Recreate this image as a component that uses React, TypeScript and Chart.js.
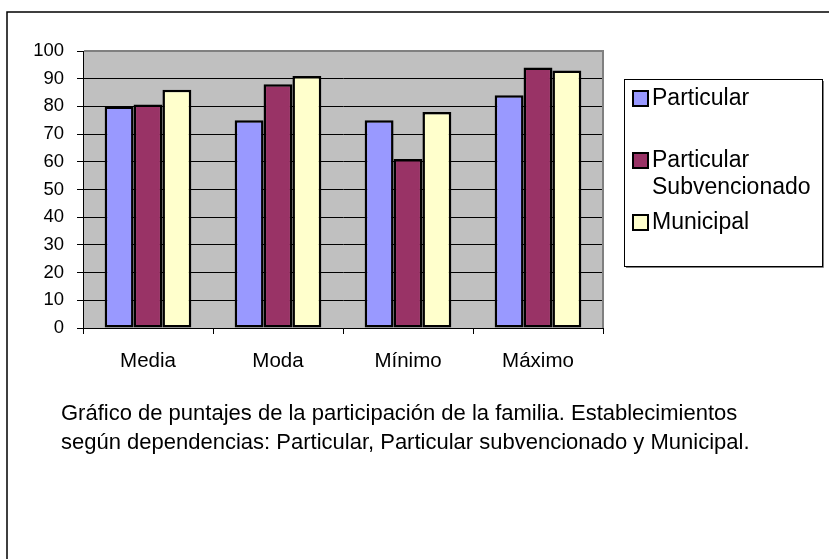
import React, { useEffect, useRef } from "react";
import { Chart, registerables } from "chart.js";

Chart.register(...registerables);

const categories = ["Media", "Moda", "Mínimo", "Máximo"];
const particular = [80, 75, 75, 84];
const subvencionado = [80.7, 88, 61, 94];
const municipal = [86, 91, 78, 93];
const seriesLabels = ["Particular", "Particular Subvencionado", "Municipal"];
const seriesColors = ["#9999FF", "#993366", "#FFFFCC"];
const legendLines = [["Particular"], ["Particular", "Subvencionado"], ["Municipal"]];
const captionLines = [
  "Gráfico de puntajes de la participación de la familia. Establecimientos",
  "según dependencias: Particular, Particular subvencionado y Municipal.",
];
const yMin = 0;
const yMax = 100;
const yStep = 10;

const FONT = "'Liberation Sans', Arial, sans-serif";

const decorPlugin = {
  id: "decor",
  beforeDraw(chart: any) {
    const { ctx, chartArea } = chart;
    ctx.save();
    ctx.fillStyle = "#ffffff";
    ctx.fillRect(0, 0, chart.width, chart.height);
    ctx.fillStyle = "#C0C0C0";
    ctx.fillRect(chartArea.left, chartArea.top, chartArea.right - chartArea.left, chartArea.bottom - chartArea.top);
    ctx.restore();
  },
  beforeDatasetsDraw(chart: any) {
    const { ctx, chartArea } = chart;
    ctx.save();
    ctx.strokeStyle = "#808080";
    ctx.lineWidth = 2;
    ctx.beginPath();
    ctx.moveTo(chartArea.left + 1, chartArea.top);
    ctx.lineTo(chartArea.right, chartArea.top);
    ctx.lineTo(chartArea.right, chartArea.bottom);
    ctx.stroke();
    ctx.restore();
  },
  afterDraw(chart: any) {
    const { ctx } = chart;
    ctx.save();
    // outer frame
    ctx.strokeStyle = "#000000";
    ctx.lineWidth = 1.5;
    ctx.beginPath();
    ctx.moveTo(7, chart.height);
    ctx.lineTo(7, 12);
    ctx.lineTo(chart.width, 12);
    ctx.stroke();

    // legend box
    const bx = 624, by = 79, bw = 198, bh = 187;
    ctx.strokeStyle = "#000000";
    ctx.lineWidth = 1;
    ctx.strokeRect(bx + 0.5, by + 0.5, bw, bh);
    ctx.strokeStyle = "#808080";
    ctx.beginPath();
    ctx.moveTo(bx + 2, by + bh + 1.5);
    ctx.lineTo(bx + bw + 1.5, by + bh + 1.5);
    ctx.lineTo(bx + bw + 1.5, by + 2);
    ctx.stroke();

    const rowY = [98, 160, 222];
    const lineGap = 27;
    ctx.font = `23px ${FONT}`;
    ctx.textBaseline = "middle";
    ctx.textAlign = "left";
    chart.data.datasets.forEach((ds: any, i: number) => {
      const cy = rowY[i];
      ctx.fillStyle = ds.backgroundColor;
      ctx.fillRect(633, cy - 7, 15, 15);
      ctx.strokeStyle = "#000000";
      ctx.lineWidth = 2;
      ctx.strokeRect(633, cy - 7, 15, 15);
      ctx.fillStyle = "#000000";
      legendLines[i].forEach((t, j) => {
        ctx.fillText(t, 652, cy + 1 + j * lineGap);
      });
    });

    // caption
    ctx.font = `22px ${FONT}`;
    ctx.fillStyle = "#000000";
    ctx.textBaseline = "middle";
    captionLines.forEach((t, j) => {
      ctx.fillText(t, 61, 414 + j * 29);
    });
    ctx.restore();
  },
};

export default function App() {
  const ref = useRef<HTMLCanvasElement | null>(null);

  useEffect(() => {
    if (!ref.current) return;
    const chart = new Chart(ref.current, {
      type: "bar",
      data: {
        labels: categories,
        datasets: [
          { label: seriesLabels[0], data: particular, backgroundColor: seriesColors[0], borderColor: "#000000", borderWidth: 2.5, borderSkipped: false },
          { label: seriesLabels[1], data: subvencionado, backgroundColor: seriesColors[1], borderColor: "#000000", borderWidth: 2.5, borderSkipped: false },
          { label: seriesLabels[2], data: municipal, backgroundColor: seriesColors[2], borderColor: "#000000", borderWidth: 2.5, borderSkipped: false },
        ],
      },
      options: {
        responsive: false,
        animation: false,
        layout: { padding: { left: 0, right: 226, top: 51, bottom: 559 - 328 - 60 } },
        datasets: { bar: { categoryPercentage: 2 / 3, barPercentage: 1 } } as any,
        plugins: {
          legend: { display: false },
          tooltip: { enabled: false },
          title: { display: false },
        },
        scales: {
          x: {
            afterFit: (s: any) => { s.height = 60; },
            grid: { offset: true, drawOnChartArea: false, color: "#000000", tickLength: 6, lineWidth: 1 },
            border: { color: "#000000", width: 1 },
            ticks: { color: "#000000", font: { family: FONT, size: 20.5 }, padding: 15, maxRotation: 0 },
          },
          y: {
            min: yMin,
            max: yMax,
            afterFit: (s: any) => { s.width = 83; },
            grid: { color: "#000000", tickLength: 6, lineWidth: 1 },
            border: { color: "#000000", width: 1 },
            ticks: { stepSize: yStep, color: "#000000", font: { family: FONT, size: 18.5 }, padding: 13 },
          },
        },
      },
      plugins: [decorPlugin],
    });
    return () => chart.destroy();
  }, []);

  return (
    <div style={{ position: "absolute", left: 0, top: 0, width: 829, height: 559, background: "#fff" }}>
      <canvas ref={ref} width={829} height={559} style={{ display: "block", width: 829, height: 559 }} />
    </div>
  );
}
